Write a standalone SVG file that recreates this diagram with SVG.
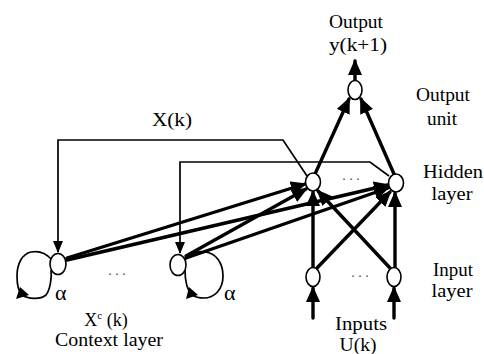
<svg xmlns="http://www.w3.org/2000/svg" width="484" height="354" viewBox="0 0 484 354">
<style>
.node{fill:#fff;stroke:#000;stroke-width:1.6}
.thick{stroke:#000;stroke-width:3.4;fill:none;stroke-linecap:round}
.thin{stroke:#000;stroke-width:1.7;fill:none}
.lbl{font-family:"Liberation Serif","Times New Roman",serif;font-size:18px;fill:#000;text-anchor:middle}
.alpha{font-family:"Liberation Serif","Times New Roman",serif;font-size:22px;fill:#000}
.dots{font-family:"Liberation Serif",serif;font-size:14px;fill:#555;text-anchor:middle}
</style>
<defs>
<marker id="big" markerUnits="userSpaceOnUse" markerWidth="16" markerHeight="14" refX="14" refY="7" orient="auto" viewBox="0 0 16 14">
<path d="M0,0 L16,7 L0,14 Z" fill="#000"/>
</marker>
<marker id="small" markerUnits="userSpaceOnUse" markerWidth="12" markerHeight="10" refX="11" refY="5" orient="auto" viewBox="0 0 12 10">
<path d="M0,0 L12,5 L0,10 Z" fill="#000"/>
</marker>
</defs>
<rect width="484" height="354" fill="#fff"/>
<g id="connectors">
<line class="thick" x1="355" y1="80" x2="355" y2="61" marker-end="url(#big)"/>
<line class="thick" x1="315" y1="174" x2="349" y2="99" marker-end="url(#big)"/>
<line class="thick" x1="394" y1="174" x2="361" y2="99" marker-end="url(#big)"/>
<line class="thick" x1="313" y1="318" x2="313" y2="288" marker-end="url(#big)"/>
<line class="thick" x1="394" y1="318" x2="394" y2="288" marker-end="url(#big)"/>
<line class="thick" x1="313" y1="267" x2="313" y2="192" marker-end="url(#big)"/>
<line class="thick" x1="317" y1="268" x2="390" y2="192" marker-end="url(#big)"/>
<line class="thick" x1="390" y1="268" x2="318" y2="191" marker-end="url(#big)"/>
<line class="thick" x1="395" y1="267" x2="395" y2="193" marker-end="url(#big)"/>
<line class="thick" x1="67" y1="258" x2="305" y2="184" marker-end="url(#big)"/>
<line class="thick" x1="67" y1="260" x2="388" y2="185" marker-end="url(#big)"/>
<line class="thick" x1="186" y1="256" x2="306" y2="189" marker-end="url(#big)"/>
<line class="thick" x1="186" y1="258" x2="388" y2="188" marker-end="url(#big)"/>
<path class="thin" d="M307,176 L283,140 L58,140 L58,252" marker-end="url(#small)"/>
<path class="thin" d="M389,176 L370,162 L180,162 L180,253" marker-end="url(#small)"/>
<path class="thin" d="M51,259 C44,251 36,251 31,252 C22,254 17,264 17,276 C17,286 19,292 22,295"/>
<path class="thin" d="M22,295 C28,299 40,300 46,295 C50,290 52,278 51,270"/>
<path d="M16,299 L20,287 L29,295 Z" fill="#000"/>
<path class="thin" d="M185,260 C190,253 198,251 205,252 C216,253 223,263 223,276 C223,290 214,298 204,298 C199,298 195,297 192,295"/>
<path class="thin" d="M185,270 C185,280 187,290 192,295"/>
<path d="M186,299 L189,287 L198,295 Z" fill="#000"/>
</g>
<g id="node-output"><ellipse class="node" cx="355" cy="90" rx="7" ry="9.5"/></g>
<g id="node-hidden1"><ellipse class="node" cx="313" cy="182" rx="7.5" ry="9"/></g>
<g id="node-hidden2"><ellipse class="node" cx="396" cy="183" rx="7.5" ry="9"/></g>
<g id="node-input1"><ellipse class="node" cx="313" cy="277" rx="7" ry="9.5"/></g>
<g id="node-input2"><ellipse class="node" cx="394" cy="277" rx="7" ry="9.5"/></g>
<g id="node-context1"><ellipse class="node" cx="58" cy="264" rx="8" ry="10.5"/></g>
<g id="node-context2"><ellipse class="node" cx="178" cy="265" rx="8" ry="10.5"/></g>
<g id="labels">
<text class="lbl" x="356" y="28" textLength="54" lengthAdjust="spacingAndGlyphs">Output</text>
<text class="lbl" x="358" y="51" textLength="58" lengthAdjust="spacingAndGlyphs">y(k+1)</text>
<text class="lbl" x="443" y="101" textLength="54" lengthAdjust="spacingAndGlyphs">Output</text>
<text class="lbl" x="442" y="125" textLength="30" lengthAdjust="spacingAndGlyphs">unit</text>
<text class="lbl" x="453" y="178" textLength="60" lengthAdjust="spacingAndGlyphs">Hidden</text>
<text class="lbl" x="452" y="200" textLength="41" lengthAdjust="spacingAndGlyphs">layer</text>
<text class="lbl" x="453" y="276" textLength="40" lengthAdjust="spacingAndGlyphs">Input</text>
<text class="lbl" x="452" y="297" textLength="41" lengthAdjust="spacingAndGlyphs">layer</text>
<text class="lbl" x="361" y="330" textLength="52" lengthAdjust="spacingAndGlyphs">Inputs</text>
<text class="lbl" x="358" y="351" textLength="37" lengthAdjust="spacingAndGlyphs">U(k)</text>
<text class="lbl" x="106" y="326">X<tspan font-size="11" dy="-7">c</tspan><tspan dy="7"> (k)</tspan></text>
<text class="lbl" x="109" y="346" textLength="108" lengthAdjust="spacingAndGlyphs">Context layer</text>
<text class="lbl" x="172" y="126" textLength="40" lengthAdjust="spacingAndGlyphs">X(k)</text>
<text class="alpha" x="55" y="300">α</text>
<text class="alpha" x="224" y="300">α</text>
<text class="dots" x="117" y="275">. . .</text>
<text class="dots" x="351" y="180">. . .</text>
<text class="dots" x="360" y="277">. . .</text>
</g>
</svg>
